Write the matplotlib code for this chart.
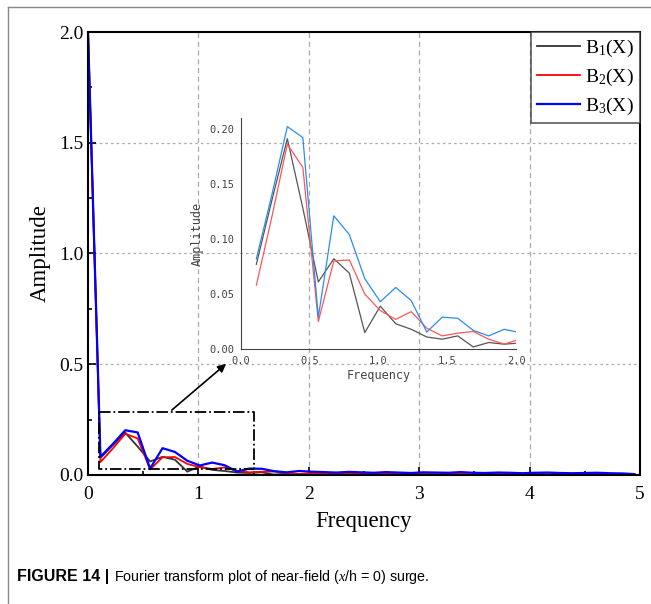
import numpy as np
import matplotlib.pyplot as plt
from matplotlib.lines import Line2D
from matplotlib.ticker import MultipleLocator, FormatStrFormatter

# frequency step of the spectrum
df = 0.1125
freq = np.arange(45) * df

# amplitudes (k = 0..44)
b1 = [2.0, 0.077, 0.135, 0.191, 0.128, 0.061, 0.082, 0.069, 0.015, 0.039,
      0.023, 0.018, 0.011, 0.009, 0.012, 0.002, 0.006, 0.0045, 0.0055, 0.004,
      0.003, 0.004, 0.003, 0.002, 0.003, 0.002, 0.003, 0.002, 0.002, 0.003,
      0.002, 0.002, 0.003, 0.002, 0.002, 0.002, 0.003, 0.002, 0.002, 0.002,
      0.002, 0.002, 0.002, 0.002, 0.001]
b2 = [2.0, 0.058, 0.120, 0.186, 0.165, 0.025, 0.080, 0.081, 0.050, 0.035,
      0.027, 0.034, 0.019, 0.012, 0.0145, 0.016, 0.009, 0.0045, 0.009, 0.006,
      0.005, 0.006, 0.005, 0.004, 0.006, 0.004, 0.005, 0.004, 0.004, 0.005,
      0.004, 0.003, 0.004, 0.004, 0.003, 0.004, 0.003, 0.003, 0.004, 0.003,
      0.003, 0.003, 0.003, 0.003, 0.002]
b3 = [2.0, 0.082, 0.140, 0.202, 0.192, 0.029, 0.121, 0.104, 0.064, 0.043,
      0.056, 0.044, 0.0155, 0.029, 0.028, 0.017, 0.012, 0.018, 0.015, 0.013,
      0.011, 0.014, 0.012, 0.010, 0.013, 0.011, 0.009, 0.012, 0.011, 0.010,
      0.013, 0.010, 0.009, 0.011, 0.010, 0.008, 0.010, 0.011, 0.009, 0.008,
      0.009, 0.010, 0.008, 0.007, 0.004]
labels = ['B$_1$(X)', 'B$_2$(X)', 'B$_3$(X)']

serif = ['Liberation Serif', 'DejaVu Serif']
plt.rcParams['font.family'] = serif
plt.rcParams['mathtext.fontset'] = 'custom'
plt.rcParams['mathtext.rm'] = 'Liberation Serif'
plt.rcParams['mathtext.it'] = 'Liberation Serif:italic'

fig = plt.figure(figsize=(6.51, 6.04), dpi=100)

# outer frame lines (top and left)
fig.add_artist(Line2D([8 / 651, 1], [1 - 7 / 604, 1 - 7 / 604], color='#888888', lw=1))
fig.add_artist(Line2D([8 / 651, 8 / 651], [0, 1 - 7 / 604], color='#888888', lw=1))

ax = fig.add_axes([0.1352, 0.2136, 0.8478, 0.7334])
ax.plot(freq, b1, color='#333333', lw=1.3, label=labels[0])
ax.plot(freq, b2, color='#ff0000', lw=1.3, label=labels[1])
ax.plot(freq, b3, color='#0000ff', lw=1.6, label=labels[2])
ax.set_xlim(0, 5)
ax.set_ylim(0, 2.0)
ax.xaxis.set_major_locator(MultipleLocator(1))
ax.xaxis.set_minor_locator(MultipleLocator(0.5))
ax.yaxis.set_major_locator(MultipleLocator(0.5))
ax.yaxis.set_minor_locator(MultipleLocator(0.25))
ax.yaxis.set_major_formatter(FormatStrFormatter('%.1f'))
ax.tick_params(which='both', direction='in', labelsize=14, width=1.2)
ax.tick_params(which='major', length=6)
ax.tick_params(which='minor', length=3)
ax.tick_params(axis='x', pad=8)
for s in ax.spines.values():
    s.set_linewidth(1.5)
ax.set_xlabel('Frequency', fontsize=16.5, labelpad=6)
ax.set_ylabel('Amplitude', fontsize=16.5, labelpad=6)
for v in [1, 2, 3, 4]:
    ax.axvline(v, color='#aaaaaa', lw=0.9, ls=(0, (4, 3)), zorder=0)
for v in [0.5, 1.0, 1.5]:
    ax.axhline(v, color='#aaaaaa', lw=0.9, ls=(0, (2, 2.5)), zorder=0)

leg = ax.legend(loc='upper right', bbox_to_anchor=(1.0, 1.0), fontsize=14,
                frameon=True, fancybox=False, edgecolor='#333333',
                borderaxespad=0, handlelength=2.2, handletextpad=0.3,
                labelspacing=0.4, borderpad=0.3)
leg.get_frame().set_linewidth(1.2)

# zoom box and arrow
ax.plot([0.1, 1.5, 1.5, 0.1, 0.1], [0.285, 0.285, 0.027, 0.027, 0.285],
        color='black', lw=1.3, ls='-.')
ax.annotate('', xy=(1.27, 0.51), xytext=(0.74, 0.285),
            arrowprops=dict(arrowstyle='-|>', color='black', lw=1.2,
                            mutation_scale=12))

# inset (without the zero-frequency term)
ins = fig.add_axes([0.370, 0.422, 0.423, 0.383])
ins.patch.set_alpha(0)
ins.plot(freq[1:], b1[1:], color='#555555', lw=0.9)
ins.plot(freq[1:], b2[1:], color='#ff5555', lw=0.9)
ins.plot(freq[1:], b3[1:], color='#2a8cf0', lw=0.9)
ins.set_xlim(0, 2.0)
ins.set_ylim(0, 0.21)
ins.spines['top'].set_visible(False)
ins.spines['right'].set_visible(False)
for s in ['left', 'bottom']:
    ins.spines[s].set_color('#444444')
ins.xaxis.set_major_locator(MultipleLocator(0.5))
ins.yaxis.set_major_locator(MultipleLocator(0.05))
ins.xaxis.set_major_formatter(FormatStrFormatter('%.1f'))
ins.yaxis.set_major_formatter(FormatStrFormatter('%.2f'))
ins.tick_params(length=0, labelsize=7.5, labelcolor='#444444', pad=5)
for t in ins.get_xticklabels() + ins.get_yticklabels():
    t.set_family('DejaVu Sans Mono')
ins.set_xlabel('Frequency', fontsize=8.5, color='#444444', family='DejaVu Sans Mono', labelpad=2)
ins.set_ylabel('Amplitude', fontsize=8.5, color='#444444', family='DejaVu Sans Mono', labelpad=4)

# caption
t1 = fig.text(17 / 651, 1 - 577 / 604, 'FIGURE 14 |', fontsize=11.5, fontweight='bold',
              family='Liberation Sans', va='center')
fig.canvas.draw()
bb = t1.get_window_extent()
fig.text((bb.x1 + 5) / 651, 1 - 577 / 604,
         'Fourier transform plot of near-field ($\\it{x}$/h = 0) surge.',
         fontsize=10.3, family='Liberation Sans', va='center')

fig.savefig('out.png', dpi=100)
